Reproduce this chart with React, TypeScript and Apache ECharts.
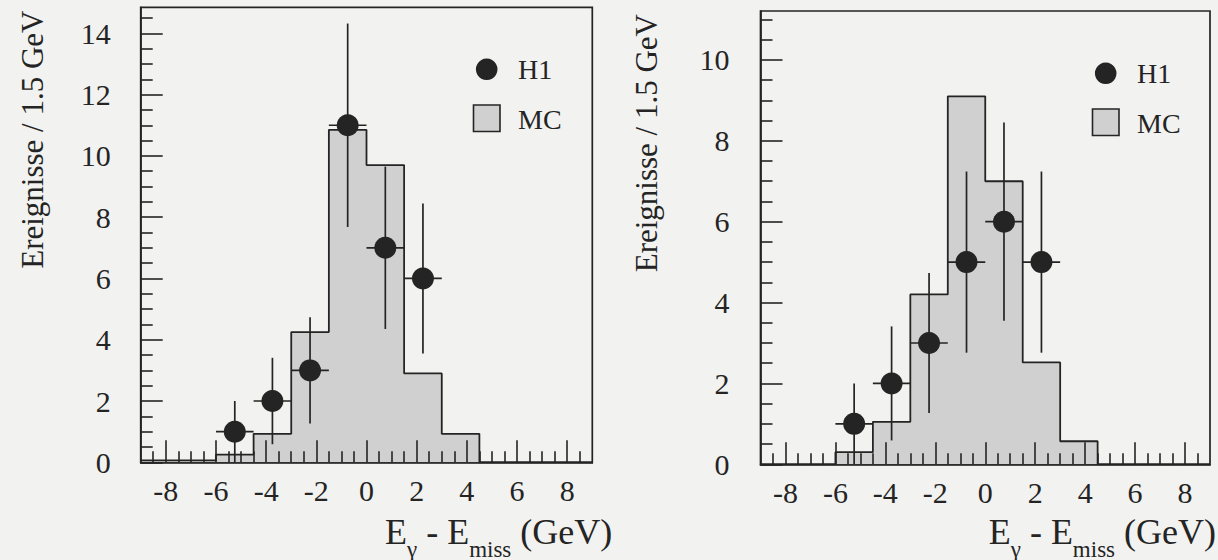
import React, { useEffect, useRef } from "react";
import * as echarts from "echarts";

// ---------------- data ----------------
const binEdges = [-9, -7.5, -6, -4.5, -3, -1.5, 0, 1.5, 3, 4.5, 6, 7.5, 9];
const mcLeft = [0.06, 0.06, 0.25, 0.93, 4.25, 10.85, 9.7, 2.9, 0.93, 0, 0, 0];
const mcRight = [0, 0, 0.3, 1.05, 4.2, 9.1, 7.0, 2.52, 0.57, 0, 0, 0];

const h1Centers = [-5.25, -3.75, -2.25, -0.75, 0.75, 2.25];
const h1Left = [1, 2, 3, 11, 7, 6];
const h1LeftErr = [1, 1.41, 1.73, 3.32, 2.65, 2.45];
const h1Right = [1, 2, 3, 5, 6, 5];
const h1RightErr = [1, 1.41, 1.73, 2.24, 2.45, 2.24];
const binHalfWidth = 0.75;

const xTickLabels = [-8, -6, -4, -2, 0, 2, 4, 6, 8];
const yTickLabelsLeft = [0, 2, 4, 6, 8, 10, 12, 14];
const yTickLabelsRight = [0, 2, 4, 6, 8, 10];

const yTitle = "Ereignisse / 1.5 GeV";
const legendData = "H1";
const legendMC = "MC";

// ---------------- style ----------------
const INK = "#242424";
const FILL = "#d0d0d0";
const BG = "#f2f2f0";
const SERIF = "Liberation Serif";

function minorTicks(lo: number, hi: number, step: number, majors: number[]) {
  const out: number[] = [];
  for (let v = lo; v <= hi + 1e-9; v += step) {
    const r = Math.round(v * 100) / 100;
    if (!majors.includes(r)) out.push(r);
  }
  return out;
}

function measure(text: string, size: number) {
  const c = document.createElement("canvas").getContext("2d")!;
  c.font = `${size}px "Liberation Serif"`;
  return c.measureText(text).width;
}

function xTitleGraphics(xStart: number | null, xEnd: number | null, yMain: number, ySub: number) {
  const MAIN = 36;
  const SUB = 23;
  const pieces = [
    { t: "E", sub: false },
    { t: "\u03B3", sub: true },
    { t: " - E", sub: false },
    { t: "miss", sub: true },
    { t: " (GeV)", sub: false },
  ];
  const widths = pieces.map((p) => measure(p.t, p.sub ? SUB : MAIN));
  const total = widths.reduce((a, b) => a + b, 0);
  let x = xStart !== null ? xStart : (xEnd as number) - total;
  const els: any[] = [];
  pieces.forEach((p, i) => {
    els.push({
      type: "text",
      x,
      y: p.sub ? ySub : yMain,
      style: {
        text: p.t,
        fontSize: p.sub ? SUB : MAIN,
        fontFamily: SERIF,
        fill: INK,
        textAlign: "left",
        textVerticalAlign: "middle",
      },
    });
    x += widths[i];
  });
  return els;
}

function legendGraphics(dx: number, dy: number) {
  return [
    { type: "circle", shape: { cx: 486.7 + dx, cy: 69.3 + dy, r: 10.8 }, style: { fill: INK } },
    {
      type: "text",
      x: 518 + dx,
      y: 69.5 + dy,
      style: { text: legendData, fontSize: 28, fontFamily: SERIF, fill: INK, textVerticalAlign: "middle" },
    },
    {
      type: "rect",
      shape: { x: 473.5 + dx, y: 105 + dy, width: 26.5, height: 26.5 },
      style: { fill: FILL, stroke: INK, lineWidth: 1.6 },
    },
    {
      type: "text",
      x: 518 + dx,
      y: 119.5 + dy,
      style: { text: legendMC, fontSize: 28, fontFamily: SERIF, fill: INK, textVerticalAlign: "middle" },
    },
  ];
}

function yTitleGraphic(cx: number, topY: number) {
  return {
    type: "text",
    x: cx,
    y: topY,
    rotation: Math.PI / 2,
    style: {
      text: yTitle,
      fontSize: 31,
      fontFamily: SERIF,
      fill: INK,
      textAlign: "right",
      textVerticalAlign: "middle",
    },
  };
}

function makeXAxes(gridIndex: number) {
  const minors = minorTicks(-8.5, 8.5, 0.5, xTickLabels);
  return [
    {
      type: "value",
      gridIndex,
      min: -9,
      max: 9,
      position: "bottom",
      z: 3,
      axisLine: { show: true, onZero: false, lineStyle: { color: INK, width: 1.7 } },
      axisTick: { show: true, inside: true, length: 22, customValues: xTickLabels, lineStyle: { color: INK, width: 1.6 } },
      axisLabel: {
        show: true,
        customValues: xTickLabels,
        margin: 13,
        fontSize: 30,
        fontFamily: SERIF,
        color: INK,
      },
      splitLine: { show: false },
    },
    {
      type: "value",
      gridIndex,
      min: -9,
      max: 9,
      position: "bottom",
      offset: 0,
      z: 3,
      axisLine: { show: false, onZero: false },
      axisTick: { show: true, inside: true, length: 11, customValues: minors, lineStyle: { color: INK, width: 1.6 } },
      axisLabel: { show: false },
      splitLine: { show: false },
    },
  ];
}

function makeYAxes(gridIndex: number, max: number, majors: number[], margin: number) {
  const minors = minorTicks(0.5, Math.floor(max * 2) / 2, 0.5, majors);
  return [
    {
      type: "value",
      gridIndex,
      min: 0,
      max,
      position: "left",
      z: 3,
      axisLine: { show: true, onZero: false, lineStyle: { color: INK, width: 1.7 } },
      axisTick: { show: true, inside: true, length: 22, customValues: majors, lineStyle: { color: INK, width: 1.6 } },
      axisLabel: { show: true, customValues: majors, margin, fontSize: 30, fontFamily: SERIF, color: INK },
      splitLine: { show: false },
    },
    {
      type: "value",
      gridIndex,
      min: 0,
      max,
      position: "left",
      offset: 0,
      z: 3,
      axisLine: { show: false, onZero: false },
      axisTick: { show: true, inside: true, length: 12, customValues: minors, lineStyle: { color: INK, width: 1.6 } },
      axisLabel: { show: false },
      splitLine: { show: false },
    },
  ];
}

function histSeries(vals: number[], xi: number, yi: number) {
  const data = binEdges.map((e, i) => [e, vals[Math.min(i, vals.length - 1)]]);
  return {
    type: "line",
    xAxisIndex: xi,
    yAxisIndex: yi,
    step: "end",
    data,
    symbol: "none",
    z: 2,
    lineStyle: { color: INK, width: 1.8 },
    areaStyle: { color: FILL, opacity: 1 },
  };
}

function pointSeries(vals: number[], xi: number, yi: number) {
  return {
    type: "scatter",
    xAxisIndex: xi,
    yAxisIndex: yi,
    data: h1Centers.map((c, i) => [c, vals[i]]),
    symbol: "circle",
    symbolSize: 22,
    itemStyle: { color: INK, opacity: 1 },
    z: 5,
  };
}

function errorSeries(vals: number[], errs: number[], xi: number, yi: number) {
  return {
    type: "custom",
    xAxisIndex: xi,
    yAxisIndex: yi,
    data: h1Centers.map((c, i) => [c, vals[i], errs[i]]),
    encode: { x: 0, y: 1 },
    z: 4,
    renderItem: (params: any, api: any) => {
      const x = api.value(0);
      const y = api.value(1);
      const e = api.value(2);
      const top = api.coord([x, y + e]);
      const bot = api.coord([x, Math.max(0, y - e)]);
      const l = api.coord([x - binHalfWidth, y]);
      const r = api.coord([x + binHalfWidth, y]);
      const st = { stroke: INK, lineWidth: 1.7 };
      return {
        type: "group",
        children: [
          { type: "line", shape: { x1: top[0], y1: top[1], x2: bot[0], y2: bot[1] }, style: st },
          { type: "line", shape: { x1: l[0], y1: l[1], x2: r[0], y2: r[1] }, style: st },
        ],
      };
    },
  };
}

export default function App() {
  const ref = useRef<HTMLDivElement>(null);
  useEffect(() => {
    if (!ref.current) return;
    const chart = echarts.init(ref.current, undefined, { renderer: "svg" });
    const option: any = {
      animation: false,
      backgroundColor: BG,
      textStyle: { fontFamily: SERIF },
      grid: [
        { left: 140.7, top: 7.3, width: 451.6, height: 455, show: true, borderColor: INK, borderWidth: 1.7, backgroundColor: "transparent" },
        { left: 760.5, top: 11, width: 449.5, height: 453.3, show: true, borderColor: INK, borderWidth: 1.7, backgroundColor: "transparent" },
      ],
      xAxis: [...makeXAxes(0), ...makeXAxes(1)],
      yAxis: [...makeYAxes(0, 14.85, yTickLabelsLeft, 30), ...makeYAxes(1, 11.21, yTickLabelsRight, 31)],
      series: [
        histSeries(mcLeft, 0, 0),
        errorSeries(h1Left, h1LeftErr, 0, 0),
        pointSeries(h1Left, 0, 0),
        histSeries(mcRight, 2, 2),
        errorSeries(h1Right, h1RightErr, 2, 2),
        pointSeries(h1Right, 2, 2),
      ],
      graphic: [
        ...legendGraphics(0, 0),
        ...legendGraphics(619, 4),
        yTitleGraphic(32, 10.5),
        yTitleGraphic(646.5, 14),
        ...xTitleGraphics(385, null, 531.5, 549),
        ...xTitleGraphics(null, 1216, 531.5, 549),
      ],
    };
    chart.setOption(option);
    return () => chart.dispose();
  }, []);
  return (
    <div
      ref={ref}
      style={{ position: "fixed", left: 0, top: 0, width: 1218, height: 560 }}
    />
  );
}
